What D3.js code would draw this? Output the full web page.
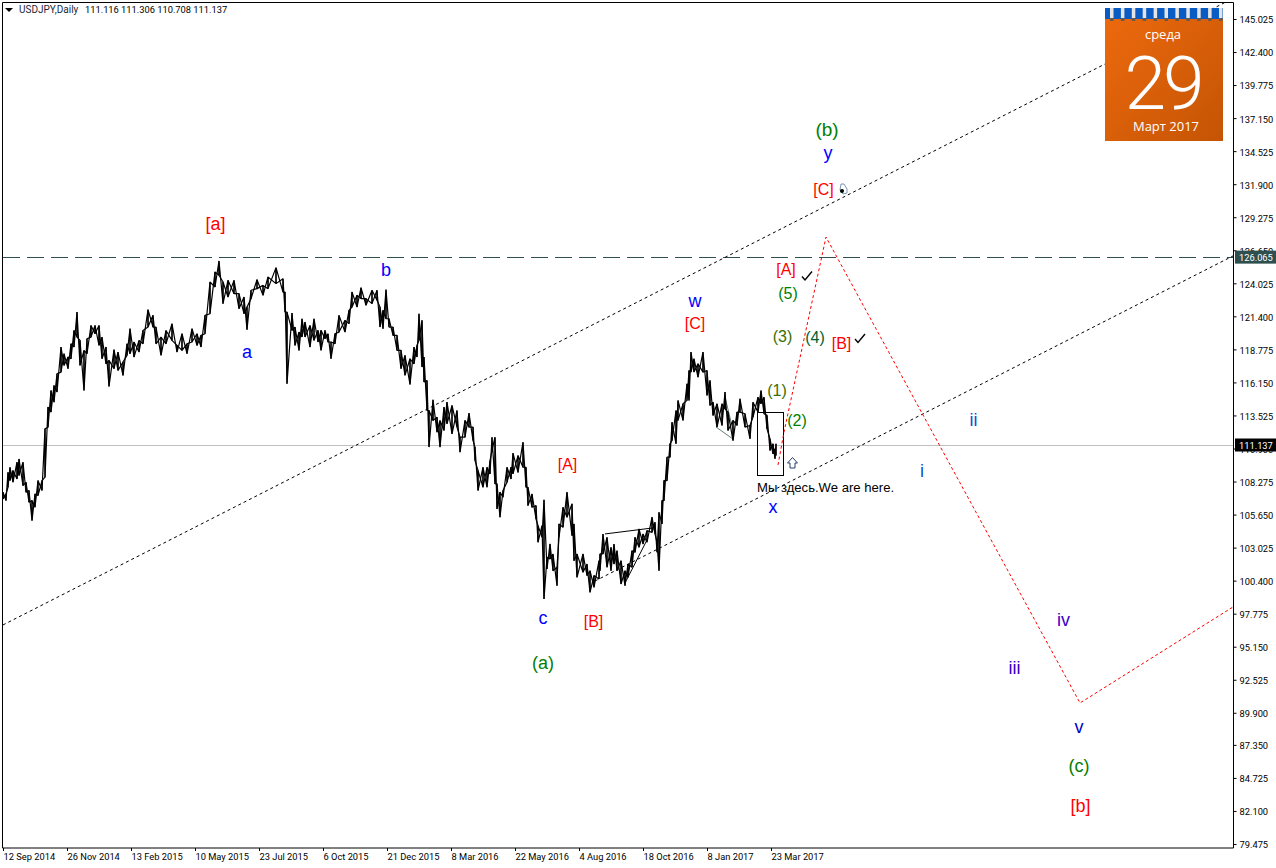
<!DOCTYPE html>
<html><head><meta charset="utf-8">
<script src="https://cdn.jsdelivr.net/npm/d3@7"></script>
<style>html,body{margin:0;padding:0;background:#fff;overflow:hidden}svg{display:block}</style>
</head><body><div id="chart"></div>
<script>
// price samples: bar number, high, low
const barNo=[3,6,8,10,13,17,19,23,26,29,32,35,38,42,45,48,51,54,57,61,64,68,71,74,77,80,84,87,91,95,99,102,106,109,114,118,123,127,130,134,139,143,148,153,156,161,166,172,177,182,187,192,197,201,205,210,215,219,223,228,234,239,244,247,251,257,263,268,276,283,285,287,292,295,299,
302,305,310,314,318,321,325,328,331,335,339,345,349,352,357,361,366,372,377,380,383,386,389,393,397,401,405,410,414,417,419,422,424,427,429,433,437,440,444,447,452,457,460,465,469,473,475,478,483,487,490,492,495,497,500,503,507,511,513,518,523,526,528,532,536,538,542,544,547,550,553,557,559,563,567,572,574,577,583,587,590,594,599,
600,603,607,611,614,617,621,625,628,632,635,639,643,647,652,655,657,659,662,664,667,670,672,676,678,683,687,689,691,694,698,703,707,710,713,717,722,725,728,733,737,740,745,750,753,758,761,764,767,770,773,775,776];
const highs=[107.42,107.29,109.01,109.41,109.15,109.81,110.07,109.81,108.22,107.56,106.76,107.29,108.35,108.35,112.46,114.19,115.51,115.91,116.84,118.96,118.43,118.16,119.22,120.28,121.74,119.49,118.69,119.62,120.68,120.68,120.68,119.75,118.96,117.90,118.75,118.56,117.77,119.22,120.42,119.36,119.49,120.28,121.93,121.48,120.55,119.75,120.28,120.81,119.09,120.02,119.22,120.42,120.02,119.89,121.48,124.13,124.93,125.80,124.13,124.26,124.26,123.20,122.94,122.14,123.47,124.32,123.86,124.53,125.27,124.39,123.33,121.74,121.66,120.55,120.15,
121.21,120.95,120.68,121.21,120.29,120.29,120.29,120.02,119.36,120.02,121.48,121.08,121.88,123.34,123.07,123.68,122.81,123.47,123.47,122.14,121.88,123.52,121.21,120.55,119.89,118.70,118.30,118.03,118.96,119.10,121.61,121.08,118.17,116.31,113.92,114.77,113.39,113.13,114.19,114.59,114.32,113.92,111.80,113.13,113.71,112.60,111.01,109.15,109.41,109.41,109.94,111.80,111.80,108.09,107.43,107.56,109.41,109.41,110.53,110.34,111.40,109.41,107.82,107.29,106.36,104.77,104.77,106.82,102.25,103.32,102.52,101.46,104.91,106.23,107.43,106.50,104.91,102.52,102.52,101.72,101.19,100.80,101.99,
102.52,104.11,103.84,103.05,103.31,102.78,101.99,101.19,101.72,102.78,103.84,104.51,104.11,104.37,105.44,105.04,103.45,105.83,106.76,108.35,110.21,111.27,112.99,113.92,114.72,114.45,116.04,117.10,118.56,118.03,117.63,118.56,117.10,116.31,114.58,114.45,114.45,115.38,113.79,113.13,113.79,114.85,113.66,112.73,114.58,114.98,115.51,114.98,113.53,111.67,111.27,110.87,111.27];
const lows=[106.89,106.76,107.82,108.35,108.22,108.48,108.75,107.95,107.42,106.63,105.17,106.23,107.16,107.56,108.62,112.59,113.79,114.58,115.38,116.97,117.50,117.24,118.03,118.96,119.75,117.50,115.51,118.43,119.75,120.02,119.09,118.03,117.63,115.83,117.24,117.10,116.70,118.30,118.43,118.16,118.56,119.22,120.55,120.55,119.22,118.30,119.22,119.49,118.56,118.69,118.43,119.36,119.09,118.96,120.02,121.61,123.73,124.66,122.41,122.94,123.20,122.01,121.61,120.34,122.80,123.60,123.07,123.60,124.00,123.33,121.74,116.04,120.28,119.09,118.69,
119.76,119.76,118.96,119.49,119.36,118.70,119.62,119.36,118.03,119.23,120.15,120.15,120.82,122.14,122.14,122.81,122.28,122.41,122.67,120.55,120.42,121.21,120.55,119.89,118.70,117.24,116.71,115.99,117.63,118.17,119.49,117.37,116.18,113.92,111.01,113.13,112.20,111.01,112.33,112.86,112.06,112.60,110.61,111.80,112.60,111.54,109.94,107.56,107.82,107.82,108.88,110.74,108.09,106.10,105.44,107.03,108.22,108.48,108.88,109.00,109.41,107.82,106.36,106.23,105.30,103.45,103.85,98.94,101.33,102.12,101.19,100.00,103.85,104.64,105.44,103.98,101.99,100.66,101.06,100.80,99.47,99.87,100.53,
101.19,102.52,101.46,101.19,101.72,101.19,100.13,100.00,100.66,101.46,102.65,103.05,103.31,103.45,104.24,104.11,102.65,101.19,104.91,106.76,108.35,110.21,111.53,111.27,113.13,113.13,114.72,114.72,116.97,116.97,116.57,116.97,115.11,114.32,113.52,112.60,112.73,114.05,112.33,111.53,112.73,113.79,112.60,111.67,113.39,113.79,114.45,113.66,112.46,110.74,110.47,110.08,110.34];

// axes
const priceTickValues=[145.025,142.4,139.775,137.15,134.525,131.9,129.275,126.65,124.025,121.4,118.775,116.15,113.525,110.9,108.275,105.65,103.025,100.4,97.775,95.15,92.525,89.9,87.35,84.725,82.1,79.475];
const dateTickBars=[3,67,131,195,259,323,387,451,515,579,643,707,771];
const dateTickLabels=["12 Sep 2014","26 Nov 2014","13 Feb 2015","10 May 2015","23 Jul 2015","6 Oct 2015","21 Dec 2015","8 Mar 2016","22 May 2016","4 Aug 2016","18 Oct 2016","8 Jan 2017","23 Mar 2017"];
const resistancePrice=126.065, lastPrice=111.137;

// drawn objects: bar number / price pairs
const upperChannelBars=[3,1107,1226], upperChannelPrices=[96.88,141.53,146.38];
const lowerChannelBars=[595,1233], lowerChannelPrices=[100.37,126.20];
const forecastBars=[778,784,826,1080,1233], forecastPrices=[109.59,112.21,127.70,90.68,98.31];
const boxBars=[757,783], boxPrices=[113.72,108.72];
const thinBlack=[[605,104.11,652,104.58],[625,100.21,647,103.63]];
const thinGray=[[716,112.61,733,111.65],[725,114.99,733,112.37]];
const checkBars=[807,860], checkPrices=[124.65,119.68];

// wave labels
const labelText=["[a]","a","b","[A]","c","[B]","(a)","w","[C]","(1)","(2)","(3)","(4)","(5)","[A]","[B]","[C]","y","(b)","i","ii","iv","iii","v","(c)","[b]","x"];
const labelBars=[215.5,247,386,567.5,543,593.5,543,695,695,777,797,782.5,815,788,786,841.5,823.5,828,827,922,973.5,1063.5,1014.5,1079,1079,1080.5,773];
const labelPrices=[128.74,118.57,125.08,109.67,97.43,97.19,93.86,122.62,120.87,115.55,113.16,119.84,119.76,123.25,125.16,119.28,131.52,134.38,136.29,109.11,113.16,97.27,93.46,88.77,85.67,82.49,106.25];
const labelColor=["#ff0000","#0000ff","#0000ff","#ff0000","#0000ff","#ff0000","#008000","#0000ff","#ff0000","#3c6e00","#008000","#3c6e00","#006030","#008000","#ff0000","#ff0000","#ff0000","#0000ff","#008000","#0a50d0","#0a50d0","#3a00c8","#3a00c8","#0000cd","#008000","#ff0000","#0000ff"];
const labelSize=[18,18,18,16,18,16,18,18,16,16,16,16,16,16,16,16,16,18,19,18,18,18,18,18,18,18,18];

const W=1276,H=868;
const svg=d3.select("#chart").append("svg").attr("width",W).attr("height",H).style("background","#fff");
const x=d3.scaleLinear().domain([0,1233.5]).range([0,1233.5]);
const y=d3.scaleLinear().domain([145.025,79.475]).range([19,844]);
const FONT="Roboto, sans-serif", LABEL="'Liberation Sans', Arial, sans-serif";
const line=d3.line().x(d=>x(d[0])).y(d=>y(d[1]));
const crisp=v=>Math.floor(v)+0.5;

// guide lines
svg.append("line").attr("x1",3).attr("x2",1233).attr("y1",crisp(y(lastPrice))).attr("y2",crisp(y(lastPrice))).attr("stroke","#c0c0c0").attr("stroke-width",1);
svg.append("line").attr("x1",3).attr("x2",1233).attr("y1",crisp(y(resistancePrice))).attr("y2",crisp(y(resistancePrice))).attr("stroke","#2f4f4f").attr("stroke-width",1).attr("stroke-dasharray","17,7");

// channels
const dotted=(bars,prices,color,w,dash)=>svg.append("path").attr("d",line(bars.map((b,i)=>[b,prices[i]]))).attr("fill","none").attr("stroke",color).attr("stroke-width",w).attr("stroke-dasharray",dash);
dotted(upperChannelBars,upperChannelPrices,"#000",1,"3,3");
dotted(lowerChannelBars,lowerChannelPrices,"#000",1,"3,3");

// thin study lines
thinBlack.forEach(d=>svg.append("path").attr("d",line([[d[0],d[1]],[d[2],d[3]]])).attr("stroke","#000").attr("stroke-width",1).attr("fill","none"));
thinGray.forEach(d=>svg.append("path").attr("d",line([[d[0],d[1]],[d[2],d[3]]])).attr("stroke","#3a5a5a").attr("stroke-width",0.8).attr("fill","none"));

// price bars: two crossing zigzags through every high and low, giving the dense bar texture
const ptsA=[],ptsB=[];
barNo.forEach((b,i)=>{ptsA.push([b,highs[i]],[b,lows[i]]);ptsB.push([b,lows[i]],[b,highs[i]]);});
[ptsA,ptsB].forEach(p=>svg.append("path").attr("d",line(p)).attr("fill","none").attr("stroke","#000").attr("stroke-width",1.2).attr("stroke-linejoin","bevel"));

// selection box and forecast
svg.append("rect").attr("x",crisp(x(boxBars[0]))).attr("y",crisp(y(boxPrices[0]))).attr("width",Math.round(x(boxBars[1])-x(boxBars[0]))).attr("height",Math.round(y(boxPrices[1])-y(boxPrices[0]))).attr("fill","none").attr("stroke","#000").attr("stroke-width",1);
dotted(forecastBars,forecastPrices,"#ff0000",1,"3,2.5");

// frame
svg.append("path").attr("d","M2.5,848V2.5H1233.5V848Z").attr("fill","none").attr("stroke","#000").attr("stroke-width",1);

// axes
const yAxis=svg.append("g").attr("transform","translate(1233.5,0)").call(d3.axisRight(y).tickValues(priceTickValues).tickSize(3).tickPadding(3).tickFormat(d3.format(".3f")));
yAxis.select(".domain").remove();
yAxis.selectAll("text").attr("font-family",FONT).attr("font-size",9.3).attr("fill","#000").attr("dy","0.42em");
yAxis.selectAll("line").attr("stroke","#000");
const xAxis=svg.append("g").attr("transform","translate(0,848)").call(d3.axisBottom(x).tickValues(dateTickBars).tickSize(3).tickPadding(2).tickFormat((d,i)=>dateTickLabels[i]));
xAxis.select(".domain").remove();
xAxis.selectAll("text").attr("font-family",FONT).attr("font-size",9.3).attr("fill","#000").attr("text-anchor","start");
xAxis.selectAll("line").attr("stroke","#000");

// price tags
[[resistancePrice,"#2f4f4f"],[lastPrice,"#000"]].forEach(([p,c])=>{
  svg.append("rect").attr("x",1235).attr("y",y(p)-7).attr("width",41).attr("height",13).attr("fill",c);
  svg.append("text").attr("x",1239).attr("y",y(p)-0.5).attr("dy","0.38em").attr("font-family",FONT).attr("font-size",9.3).attr("fill","#fff").text(p.toFixed(3));
});

// header
svg.append("path").attr("d","M5,8H13L9,12Z").attr("fill","#000");
svg.append("text").attr("x",19).attr("y",13).attr("font-family",FONT).attr("font-size",10).attr("fill","#1a2a3a").text("USDJPY,Daily");
svg.append("text").attr("x",85).attr("y",13).attr("font-family",FONT).attr("font-size",9.3).attr("fill","#000").text("111.116 111.306 110.708 111.137");

// wave labels
svg.append("g").selectAll("text").data(labelText).join("text")
  .attr("x",(d,i)=>x(labelBars[i])).attr("y",(d,i)=>y(labelPrices[i])).attr("dy","0.35em")
  .attr("text-anchor","middle").attr("font-family",LABEL).attr("font-size",(d,i)=>labelSize[i]).attr("fill",(d,i)=>labelColor[i]).text(d=>d);
svg.append("text").attr("x",757).attr("y",y(107.84)).attr("dy","0.35em").attr("font-family",LABEL).attr("font-size",13.1).attr("fill","#000").text("Мы здесь.We are here.");

// check marks
checkBars.forEach((b,i)=>{
  svg.append("path").attr("transform",`translate(${x(b)},${y(checkPrices[i])})`).attr("d","M-5,1L-2,4.5L5,-4").attr("fill","none").attr("stroke","#000").attr("stroke-width",1.4);
});
// up arrow
svg.append("path").attr("transform","translate(792.5,463)").attr("d","M0,-5.5L5,0H2.5V5H-2.5V0H-5Z").attr("fill","#fff").attr("stroke","#24406a").attr("stroke-width",1);
// hand cursor
const hand=svg.append("g").attr("transform","translate(843,189)");
hand.append("path").attr("d","M-2,-5L1,-5L4,0L4,4L0,5L-3,1Z").attr("fill","#fff").attr("stroke","#5a7a9a").attr("stroke-width",0.8);
hand.append("circle").attr("cx",-1).attr("cy",2).attr("r",2).attr("fill","#000");

// calendar widget
const defs=svg.append("defs");
const g=defs.append("linearGradient").attr("id","cal").attr("x1","0").attr("y1","0").attr("x2","1").attr("y2","1");
g.append("stop").attr("offset","0").attr("stop-color","#ee6a0e");
g.append("stop").attr("offset","1").attr("stop-color","#c45404");
const ringCenters=d3.range(11);
const cal=svg.append("g").attr("transform","translate(1105,8)");
cal.append("rect").attr("width",118).attr("height",133).attr("fill","url(#cal)");
cal.append("rect").attr("width",118).attr("height",11).attr("fill","#0a5cc4");
cal.selectAll(".ring").data(ringCenters).join("rect").attr("class","ring")
  .attr("x",d=>5+d*10.9).attr("y",0).attr("width",3.5).attr("height",10).attr("fill","#e4e4e4");
cal.selectAll(".tip").data(ringCenters).join("rect").attr("class","tip")
  .attr("x",d=>5+d*10.9).attr("y",10).attr("width",3.5).attr("height",3).attr("fill","#6a5a4a");
cal.append("text").attr("x",58).attr("y",31).attr("text-anchor","middle").attr("font-family","'Open Sans', sans-serif").attr("font-size",13).attr("fill","#fff").text("среда");
cal.append("text").attr("x",58).attr("y",101).attr("text-anchor","middle").attr("font-family","Roboto, sans-serif").attr("font-weight",300).attr("font-size",75).attr("letter-spacing",-3).attr("fill","#fff").text("29");
cal.append("text").attr("x",61).attr("y",123).attr("text-anchor","middle").attr("font-family","'Open Sans', sans-serif").attr("font-size",13).attr("fill","#fff").text("Март 2017");
</script></body></html>
